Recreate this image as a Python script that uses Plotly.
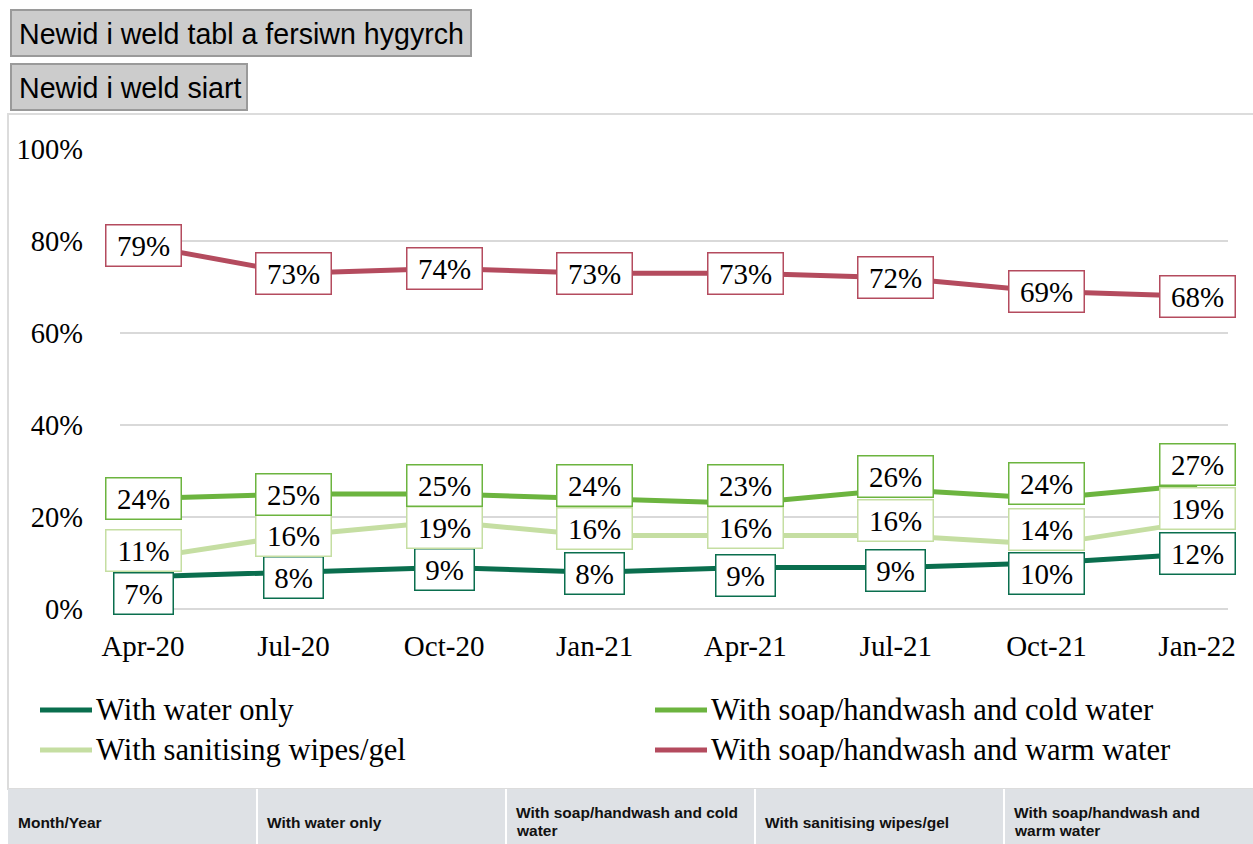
import plotly.graph_objects as go

# ---- data -------------------------------------------------------------
months = ["Apr-20", "Jul-20", "Oct-20", "Jan-21", "Apr-21", "Jul-21", "Oct-21", "Jan-22"]
water_only = [7, 8, 9, 8, 9, 9, 10, 12]
soap_cold = [24, 25, 25, 24, 23, 26, 24, 27]
wipes_gel = [11, 16, 19, 16, 16, 16, 14, 19]
soap_warm = [79, 73, 74, 73, 73, 72, 69, 68]

series_names = [
    "With water only",
    "With soap/handwash and cold water",
    "With sanitising wipes/gel",
    "With soap/handwash and warm water",
]
y_tick_values = [0, 20, 40, 60, 80, 100]
y_tick_labels = ["0%", "20%", "40%", "60%", "80%", "100%"]
button_labels = ["Newid i weld tabl a fersiwn hygyrch", "Newid i weld siart"]
table_headers = [
    ["Month/Year"],
    ["With water only"],
    ["With soap/handwash and cold", "water"],
    ["With sanitising wipes/gel"],
    ["With soap/handwash and", "warm water"],
]

# ---- styling ------------------------------------------------------------
colors = {
    "With water only": "#0a6e4e",
    "With soap/handwash and cold water": "#6cb43f",
    "With sanitising wipes/gel": "#c5dea2",
    "With soap/handwash and warm water": "#b44b5e",
}
# vertical nudges (px, up is positive) that keep the value boxes apart
label_shift = {
    "With water only": [-17, -5, -2, -1, -8, -3, -10, 0],
    "With sanitising wipes/gel": [8, 0, -6, 7, 8, 15, 15, 13],
    "With soap/handwash and cold water": [0, 0, 9, 13, 18, 13, 15, 20],
    "With soap/handwash and warm water": [0, 0, 0, 0, 0, 0, 0, 0],
}
SERIF = "Liberation Serif, Times New Roman, serif"
SANS = "Liberation Sans, Arial, sans-serif"

W, H = 1253, 844
PL, PR, PT, PB = 120, 1228, 149, 609  # plot area in page pixels


def px(x):
    return (x - PL) / (PR - PL)


def py(y):
    return (PB - y) / (PB - PT)


series = {
    "With water only": water_only,
    "With soap/handwash and cold water": soap_cold,
    "With sanitising wipes/gel": wipes_gel,
    "With soap/handwash and warm water": soap_warm,
}

fig = go.Figure()
for name in series_names:
    fig.add_trace(go.Scatter(
        x=months, y=series[name], name=name, mode="lines",
        line=dict(color=colors[name], width=5),
        showlegend=False, hoverinfo="skip",
    ))

annotations = []
shapes = []

# value boxes
for name in ["With water only", "With sanitising wipes/gel",
             "With soap/handwash and cold water", "With soap/handwash and warm water"]:
    for i, v in enumerate(series[name]):
        txt = f"{v}%"
        annotations.append(dict(
            x=months[i], y=v, xref="x", yref="y", text=txt, showarrow=False,
            font=dict(family=SERIF, size=29, color="#000"),
            bgcolor="white", bordercolor=colors[name], borderwidth=1.5, borderpad=1,
            width=72 if len(txt) == 3 else 56, height=38,
            yshift=label_shift[name][i],
        ))

# chart panel frame
shapes.append(dict(type="rect", xref="paper", yref="paper",
                   x0=px(8), x1=px(1262), y0=py(789), y1=py(114),
                   line=dict(color="#dcdcdc", width=2), fillcolor="rgba(0,0,0,0)",
                   layer="below"))

# buttons above the chart
button_boxes = [(11, 471, 10, 56), (11, 247, 64, 110)]
for label, (x0, x1, y0, y1) in zip(button_labels, button_boxes):
    shapes.append(dict(type="rect", xref="paper", yref="paper",
                       x0=px(x0), x1=px(x1), y0=py(y1), y1=py(y0),
                       line=dict(color="#9a9a9a", width=2), fillcolor="#cccccc"))
    annotations.append(dict(x=px(x0 + 6), y=py((y0 + y1) / 2 + 1), xref="paper", yref="paper",
                            text=label, showarrow=False, xanchor="left", yanchor="middle",
                            font=dict(family=SANS, size=28.6, color="#000")))

# legend (two columns)
legend_pos = [(40, 710), (655, 710), (40, 750), (655, 750)]
for name, (lx, ly) in zip(series_names, legend_pos):
    shapes.append(dict(type="line", xref="paper", yref="paper",
                       x0=px(lx), x1=px(lx + 52), y0=py(ly), y1=py(ly),
                       line=dict(color=colors[name], width=5)))
    annotations.append(dict(x=px(lx + 54), y=py(ly), xref="paper", yref="paper",
                            text=name, showarrow=False, xanchor="left", yanchor="middle",
                            font=dict(family=SERIF, size=30.6, color="#000")))

# table header strip
shapes.append(dict(type="rect", xref="paper", yref="paper",
                   x0=px(8), x1=px(1262), y0=py(850), y1=py(789),
                   line=dict(width=0), fillcolor="#dee1e5"))
col_lefts = [8, 257, 506, 755, 1004]
for cx in col_lefts[1:]:
    shapes.append(dict(type="line", xref="paper", yref="paper",
                       x0=px(cx), x1=px(cx), y0=py(850), y1=py(789),
                       line=dict(color="white", width=2)))
for cx, head_lines in zip(col_lefts, table_headers):
    if len(head_lines) == 1:
        rows = [822]
    else:
        rows = [812, 830]
    for row_y, line_txt in zip(rows, head_lines):
        annotations.append(dict(x=px(cx + 8), y=py(row_y), xref="paper", yref="paper",
                                text=f"<b>{line_txt}</b>", showarrow=False, xanchor="left",
                                yanchor="middle", align="left",
                                font=dict(family=SANS, size=15.5, color="#111")))

x0_off = (143 - PL) / 150.6
x1_off = (PR - 1197) / 150.6

fig.update_layout(
    width=W, height=H, autosize=False,
    margin=dict(l=PL, r=W - PR, t=PT, b=H - PB, pad=0),
    paper_bgcolor="white", plot_bgcolor="white",
    showlegend=False,
    annotations=annotations, shapes=shapes,
    xaxis=dict(type="category", range=[-x0_off, len(months) - 1 + x1_off],
               showgrid=False, zeroline=False, showline=False, ticks="",
               tickfont=dict(family=SERIF, size=29, color="#000"),
               ticklabelstandoff=17, fixedrange=True),
    yaxis=dict(range=[0, 100], tickvals=y_tick_values, ticktext=y_tick_labels,
               showgrid=True, gridcolor="#d9d9d9", gridwidth=1.5,
               zeroline=True, zerolinecolor="#d9d9d9", zerolinewidth=1.5,
               showline=False, ticks="",
               tickfont=dict(family=SERIF, size=28.5, color="#000"),
               ticklabelstandoff=36, fixedrange=True),
)

fig.write_html("out.html", config=dict(displayModeBar=False))
